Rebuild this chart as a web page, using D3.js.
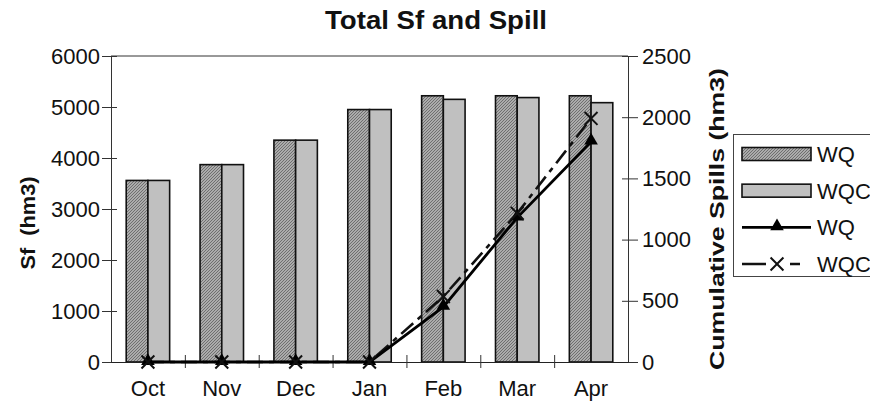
<!DOCTYPE html>
<html>
<head>
<meta charset="utf-8">
<script src="https://cdn.jsdelivr.net/npm/d3@7/dist/d3.min.js"></script>
<style>
  html, body { margin: 0; padding: 0; background: #fff; }
  svg { display: block; font-family: "Liberation Sans", Arial, sans-serif; }
</style>
</head>
<body>
<svg id="chart" width="870" height="401"></svg>
<script>
// Months of the season
const months = ["Oct", "Nov", "Dec", "Jan", "Feb", "Mar", "Apr"];
// Total Sf per month (hm3), left axis
const sfWQ  = [3560, 3870, 4350, 4950, 5220, 5220, 5220];
const sfWQC = [3560, 3870, 4350, 4950, 5150, 5185, 5085];
// Cumulative spills (hm3), right axis
const spillWQ  = [0, 0, 0, 0, 450, 1180, 1800];
const spillWQC = [0, 0, 0, 0, 535, 1215, 1990];
// Axis ticks
const leftTicks  = [0, 1000, 2000, 3000, 4000, 5000, 6000];
const rightTicks = [0, 500, 1000, 1500, 2000, 2500];

const svg = d3.select("#chart");
const L = 111, R = 628, T = 56, B = 362;

// Fine diagonal hatch fill for the WQ bars
const defs = svg.append("defs");
const pat = defs.append("pattern")
  .attr("id", "hatch").attr("patternUnits", "userSpaceOnUse")
  .attr("width", 3).attr("height", 3);
pat.append("rect").attr("width", 3).attr("height", 3).attr("fill", "#c6c6c6");
pat.append("path").attr("d", "M-1,1 L1,-1 M0,3 L3,0 M2,4 L4,2")
  .attr("stroke", "#6a6a6a").attr("stroke-width", 1.1);

const x = d3.scaleBand().domain(months).range([L, R]).paddingInner(0).paddingOuter(0);
const x1 = d3.scaleBand().domain(["WQ", "WQC"]).range([0, x.bandwidth()])
  .paddingInner(0).paddingOuter(0.70);
const yL = d3.scaleLinear().domain([0, 6000]).range([B, T]);
const yR = d3.scaleLinear().domain([0, 2500]).range([B, T]);
const fmt = d3.format("d");

// Plot frame (top edge)
svg.append("line").attr("x1", L).attr("x2", R).attr("y1", T).attr("y2", T)
  .attr("stroke", "#333").attr("stroke-width", 1);

// Bars
const barSeries = [
  { key: "WQ",  values: sfWQ,  fill: "url(#hatch)" },
  { key: "WQC", values: sfWQC, fill: "#c0c0c0" }
];
barSeries.forEach(s => {
  svg.append("g").selectAll("rect").data(months).join("rect")
    .attr("x", (m) => x(m) + x1(s.key))
    .attr("width", x1.bandwidth())
    .attr("y", (m, i) => yL(s.values[i]))
    .attr("height", (m, i) => B - yL(s.values[i]))
    .attr("fill", s.fill)
    .attr("stroke", "#111").attr("stroke-width", 1.6);
});

const tickFont = g => g.selectAll("text")
  .attr("font-size", 22).attr("fill", "#111")
  .attr("font-family", "'Liberation Sans', Arial, sans-serif");

// Left axis
const gL = svg.append("g").attr("transform", `translate(${L},0)`)
  .call(d3.axisLeft(yL).tickValues(leftTicks).tickFormat(fmt).tickSize(9).tickPadding(2).tickSizeOuter(0));
gL.select(".domain").attr("stroke", "#333");
gL.selectAll(".tick line").attr("x1", 6).attr("x2", -9).attr("stroke", "#333");
tickFont(gL);

// Right axis
const gR = svg.append("g").attr("transform", `translate(${R},0)`)
  .call(d3.axisRight(yR).tickValues(rightTicks).tickFormat(fmt).tickSize(7).tickPadding(7).tickSizeOuter(0));
gR.select(".domain").attr("stroke", "#333");
gR.selectAll(".tick line").attr("x1", -6).attr("x2", 10).attr("stroke", "#333");
tickFont(gR);

// Bottom axis: month labels and category separators
const gB = svg.append("g").attr("transform", `translate(0,${B})`)
  .call(d3.axisBottom(x).tickSize(0).tickPadding(18));
gB.select(".domain").attr("stroke", "#222");
tickFont(gB);
const sep = d3.scaleLinear().domain([0, months.length]).range([L, R]);
const gS = svg.append("g").attr("transform", `translate(0,${B})`)
  .call(d3.axisBottom(sep).tickValues(d3.range(1, months.length)).tickFormat("").tickSize(6).tickSizeOuter(0));
gS.select(".domain").remove();
gS.selectAll(".tick line").attr("y1", -7).attr("y2", 6).attr("stroke", "#333");

// Spill lines
const cx = m => x(m) + x.bandwidth() / 2;
const line = d3.line().x(d => cx(d.m)).y(d => yR(d.v));
const ptsWQ = months.map((m, i) => ({ m, v: spillWQ[i] }));
const ptsWQC = months.map((m, i) => ({ m, v: spillWQC[i] }));

svg.append("path").datum(ptsWQC).attr("d", line)
  .attr("fill", "none").attr("stroke", "#111").attr("stroke-width", 2.6)
  .attr("stroke-dasharray", "16,6,5,6");
svg.append("path").datum(ptsWQ).attr("d", line)
  .attr("fill", "none").attr("stroke", "#000").attr("stroke-width", 2.8);

const tri = d3.symbol().type(d3.symbolTriangle).size(80);
svg.append("g").selectAll("path").data(ptsWQ).join("path")
  .attr("d", tri)
  .attr("transform", d => `translate(${cx(d.m)},${yR(d.v) - 1})`)
  .attr("fill", "#000");
const xMark = d3.symbol().type(d3.symbolX).size(110);
svg.append("g").selectAll("path").data(ptsWQC).join("path")
  .attr("d", xMark)
  .attr("transform", d => `translate(${cx(d.m)},${yR(d.v)})`)
  .attr("fill", "none").attr("stroke", "#111").attr("stroke-width", 2);

// Title and axis titles
svg.append("text").attr("x", 436).attr("y", 29).attr("text-anchor", "middle")
  .attr("font-size", 25).attr("font-weight", "bold").attr("fill", "#111")
  .attr("textLength", 222).attr("lengthAdjust", "spacingAndGlyphs")
  .text("Total Sf and Spill");
svg.append("text").attr("transform", "translate(35,223) rotate(-90)")
  .attr("text-anchor", "middle").attr("font-size", 21).attr("font-weight", "bold").attr("fill", "#111")
  .attr("textLength", 93).attr("lengthAdjust", "spacingAndGlyphs")
  .attr("xml:space", "preserve").style("white-space", "pre")
  .text("Sf  (hm3)");
svg.append("text").attr("transform", "translate(724,219) rotate(-90)")
  .attr("text-anchor", "middle").attr("font-size", 21).attr("font-weight", "bold").attr("fill", "#111")
  .attr("textLength", 302).attr("lengthAdjust", "spacingAndGlyphs")
  .text("Cumulative Spills (hm3)");

// Legend
const lg = svg.append("g");
lg.append("rect").attr("x", 733.5).attr("y", 134.5).attr("width", 150).attr("height", 142)
  .attr("fill", "#fff").attr("stroke", "#444").attr("stroke-width", 1);
const items = [
  { label: "WQ",  kind: "bar",  fill: "url(#hatch)" },
  { label: "WQC", kind: "bar",  fill: "#c0c0c0" },
  { label: "WQ",  kind: "tri" },
  { label: "WQC", kind: "x" }
];
const ly = d3.scalePoint().domain(d3.range(items.length)).range([154, 264]);
items.forEach((it, i) => {
  const yy = ly(i);
  if (it.kind === "bar") {
    lg.append("rect").attr("x", 742).attr("y", yy - 6.5).attr("width", 69).attr("height", 13)
      .attr("fill", it.fill).attr("stroke", "#111").attr("stroke-width", 1.6);
  } else if (it.kind === "tri") {
    lg.append("line").attr("x1", 742).attr("x2", 811).attr("y1", yy).attr("y2", yy)
      .attr("stroke", "#000").attr("stroke-width", 2.8);
    lg.append("path").attr("d", tri).attr("transform", `translate(777,${yy - 1})`).attr("fill", "#000");
  } else {
    lg.append("line").attr("x1", 742).attr("x2", 811).attr("y1", yy).attr("y2", yy)
      .attr("stroke", "#111").attr("stroke-width", 2.6).attr("stroke-dasharray", "24,24,10,20");
    lg.append("path").attr("d", xMark).attr("transform", `translate(777,${yy})`)
      .attr("fill", "none").attr("stroke", "#111").attr("stroke-width", 2);
  }
  lg.append("text").attr("x", 817).attr("y", yy + 8).attr("font-size", 22).attr("fill", "#111")
    .text(it.label);
});
</script>
</body>
</html>
